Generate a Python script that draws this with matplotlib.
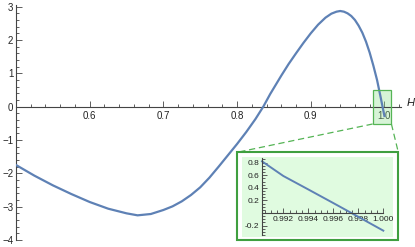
import numpy as np
import matplotlib
matplotlib.use("Agg")
import matplotlib.pyplot as plt
from matplotlib.patches import Rectangle
from matplotlib.lines import Line2D
from matplotlib.ticker import MultipleLocator, FixedLocator

plt.rcParams['font.family'] = ['Liberation Sans', 'DejaVu Sans']

# curve values
h = [0.500, 0.525, 0.550, 0.575, 0.600, 0.625, 0.650, 0.665, 0.683, 0.700,
     0.7125, 0.725, 0.7375, 0.750, 0.7625, 0.775, 0.7875, 0.800, 0.8125, 0.825,
     0.8356, 0.845, 0.860, 0.870, 0.880, 0.890, 0.900, 0.910, 0.920, 0.928,
     0.935, 0.940, 0.945, 0.950, 0.955, 0.960, 0.965, 0.970, 0.975, 0.980,
     0.985, 0.990, 0.995, 1.000]
f = [-1.75, -2.07, -2.36, -2.62, -2.86, -3.06, -3.20, -3.26, -3.22, -3.10,
     -2.99, -2.84, -2.65, -2.42, -2.13, -1.80, -1.46, -1.12, -0.76, -0.37,
     0.00, 0.38, 0.93, 1.28, 1.60, 1.91, 2.20, 2.46, 2.67, 2.79,
     2.85, 2.87, 2.85, 2.80, 2.72, 2.60, 2.43, 2.22, 1.95, 1.62,
     1.23, 0.80, 0.27, -0.28]

# zoomed part
h_zoom = [0.9903, 0.992, 0.994, 0.996, 0.998, 1.000]
f_zoom = [0.82, 0.588, 0.374, 0.158, -0.06, -0.28]

xticks_main = [0.6, 0.7, 0.8, 0.9, 1.0]
xlabels_main = ['0.6', '0.7', '0.8', '0.9', '1.0']
yticks_main = [-4, -3, -2, -1, 0, 1, 2, 3]
xticks_zoom = [0.992, 0.994, 0.996, 0.998, 1.000]
yticks_zoom = [-0.2, 0.2, 0.4, 0.6, 0.8]

W, H = 415, 247
fig = plt.figure(figsize=(W/100, H/100), dpi=100)

def fx(px):
    return px / W

def fy(py):
    return 1 - py / H

blue = '#5e81b5'
axcol = '#444444'
green = '#3f9f3f'

ax = fig.add_axes([fx(16), fy(240), fx(401) - fx(16), fy(5) - fy(240)])
ax.plot(h, f, color=blue, lw=1.6, zorder=3, solid_joinstyle='round')
ax.set_xlim(0.5, 1.0225)
ax.set_ylim(-4, 3.05)
ax.spines['top'].set_visible(False)
ax.spines['right'].set_visible(False)
ax.spines['bottom'].set_position(('data', 0))
ax.spines['left'].set_position(('data', 0.5))
for s in ['bottom', 'left']:
    ax.spines[s].set_color(axcol)
    ax.spines[s].set_linewidth(0.8)
ax.set_xticks(xticks_main)
ax.set_xticklabels(xlabels_main)
ax.set_yticks(yticks_main)
ax.xaxis.set_minor_locator(MultipleLocator(0.02))
ax.yaxis.set_minor_locator(MultipleLocator(0.2))
ax.tick_params(which='both', direction='in', colors=axcol, labelcolor='#222222',
               labelsize=7, width=0.6)
ax.tick_params(which='major', length=4, pad=3)
ax.tick_params(which='minor', length=2.5)
ax.tick_params(axis='y', pad=2)
ax.patch.set_visible(False)
fig.text(fx(411), fy(103), 'H', fontsize=8, style='italic', ha='center', va='center',
         color='#222222')

# highlight box
rx0, rx1, ry0, ry1 = 0.984, 1.0095, -0.52, 0.50
ax.add_patch(Rectangle((rx0, ry0), rx1 - rx0, ry1 - ry0, facecolor='#8fe08f',
                       alpha=0.35, edgecolor='none', zorder=2))
ax.add_patch(Rectangle((rx0, ry0), rx1 - rx0, ry1 - ry0, facecolor='none',
                       edgecolor='#55b455', lw=0.9, zorder=4))

# inset frame
fx0, fx1, fy0, fy1 = 237.3, 398.3, 152.3, 240
fig.add_artist(Rectangle((fx(fx0), fy(fy1)), fx(fx1) - fx(fx0), fy(fy0) - fy(fy1),
                         transform=fig.transFigure, facecolor='white',
                         edgecolor=green, lw=1.5, zorder=5))

# dashed connectors
fig.canvas.draw()
inv = fig.transFigure.inverted()
c1 = inv.transform(ax.transData.transform((rx0, ry0)))
c2 = inv.transform(ax.transData.transform((rx1, ry0)))
fig.add_artist(Line2D([c1[0], fx(fx0)], [c1[1], fy(fy0)], transform=fig.transFigure,
                      color='#55b455', lw=0.9, ls=(0, (5, 3)), zorder=4))
fig.add_artist(Line2D([c2[0], fx(fx1)], [c2[1], fy(fy0)], transform=fig.transFigure,
                      color='#55b455', lw=0.9, ls=(0, (5, 3)), zorder=4))

# inset axes
ins = fig.add_axes([fx(241.7), fy(236.7), fx(393.3) - fx(241.7), fy(156.7) - fy(236.7)],
                   zorder=6)
ins.set_facecolor('#e0fbe0')
ins.plot(h_zoom, f_zoom, color=blue, lw=1.4)
ins.set_xlim(0.98867, 1.0008)
ins.set_ylim(-0.376, 0.894)
ins.spines['top'].set_visible(False)
ins.spines['right'].set_visible(False)
ins.spines['bottom'].set_position(('data', 0))
ins.spines['left'].set_position(('data', 0.9903))
ins.spines['bottom'].set_bounds(0.9903, 1.0)
ins.spines['left'].set_bounds(-0.35, 0.87)
for s in ['bottom', 'left']:
    ins.spines[s].set_color(axcol)
    ins.spines[s].set_linewidth(0.8)
ins.set_xticks(xticks_zoom)
ins.set_xticklabels(['%.3f' % v for v in xticks_zoom])
ins.set_yticks(yticks_zoom)
ins.set_yticklabels(['%.1f' % v for v in yticks_zoom])
ins.xaxis.set_minor_locator(FixedLocator(np.arange(0.9905, 1.0001, 0.0005)))
ins.yaxis.set_minor_locator(FixedLocator(np.arange(-0.35, 0.87, 0.05)))
ins.tick_params(which='both', direction='in', colors=axcol, labelcolor='#222222',
                labelsize=6, width=0.6)
ins.tick_params(which='major', length=3.5, pad=2)
ins.tick_params(which='minor', length=2)

fig.savefig('out.png', dpi=100)
